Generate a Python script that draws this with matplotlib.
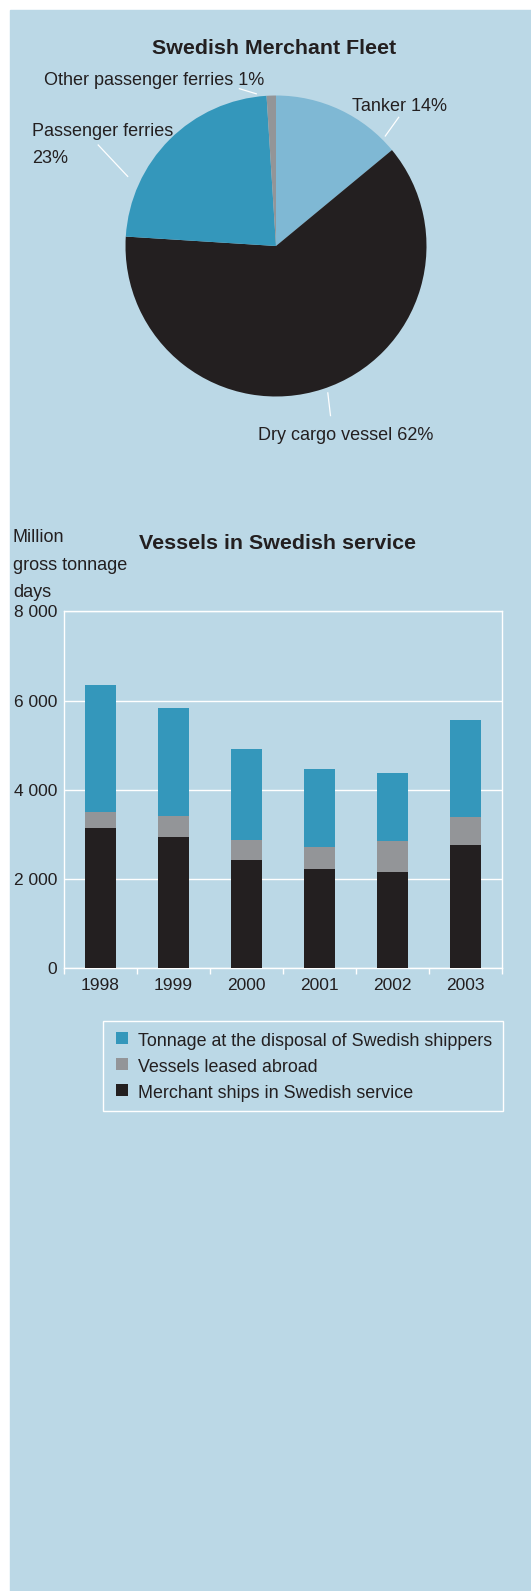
import numpy as np
import matplotlib.pyplot as plt
from matplotlib.patches import Rectangle
from matplotlib.lines import Line2D

plt.rcParams["font.family"] = ["Liberation Sans", "DejaVu Sans"]

# ── Data ──────────────────────────────────────────────────────────────────────
fleet_labels = ["Tanker", "Dry cargo vessel", "Passenger ferries",
                "Other passenger ferries"]
fleet_share = [14, 62, 23, 1]

years = ["1998", "1999", "2000", "2001", "2002", "2003"]
merchant_ships = [3140, 2940, 2420, 2220, 2150, 2760]
leased_abroad = [360, 470, 450, 495, 700, 630]
shipper_tonnage = [2860, 2430, 2050, 1755, 1530, 2180]

y_ticks = [0, 2000, 4000, 6000, 8000]

# ── Colours ───────────────────────────────────────────────────────────────────
BG = "#bbd8e6"
LIGHT = "#7fb8d4"
MID = "#3497bb"
DARK = "#231f20"
GREY = "#939598"
TXT = "#231f20"

W, H = 531, 1591


def fx(x):
    return x / W


def fy(y):
    return 1 - y / H


fig = plt.figure(figsize=(W / 100, H / 100), dpi=100, facecolor="white")
fig.patches.append(Rectangle((fx(10), 0), fx(W - 10), 1 - 10 / H,
                             transform=fig.transFigure, color=BG, zorder=-10))

# ── Pie: Swedish Merchant Fleet ───────────────────────────────────────────────
cx, cy, r = 276, 246, 150.5
pax = fig.add_axes([fx(cx - r), fy(cy + r), 2 * r / W, 2 * r / H])
pax.pie(fleet_share, colors=[LIGHT, DARK, MID, GREY], startangle=90,
        counterclock=False, radius=1, wedgeprops=dict(linewidth=0))
pax.set_xlim(-1, 1)
pax.set_ylim(-1, 1)
pax.set_aspect("equal")
pax.axis("off")

fig.text(fx(152), fy(54), "Swedish Merchant Fleet", fontsize=15.4,
         fontweight="bold", color=TXT, ha="left", va="baseline")

pie_texts = [
    (44, 84.7, f"{fleet_labels[3]} {fleet_share[3]}%"),
    (352, 111, f"{fleet_labels[0]} {fleet_share[0]}%"),
    (32, 135.5, fleet_labels[2]),
    (32, 163.2, f"{fleet_share[2]}%"),
    (258, 440.5, f"{fleet_labels[1]} {fleet_share[1]}%"),
]
for x, y, s in pie_texts:
    fig.text(fx(x), fy(y), s, fontsize=13, color=TXT, ha="left",
             va="baseline")

# leader lines
leaders = [
    ((239.4, 88.7), (256.3, 93.8)),
    ((398.7, 117.3), (385.3, 136.0)),
    ((98.2, 145.0), (127.7, 176.4)),
    ((327.8, 392.9), (330.5, 415.6)),
]
for (x0, y0), (x1, y1) in leaders:
    fig.lines.append(Line2D([fx(x0), fx(x1)], [fy(y0), fy(y1)],
                            transform=fig.transFigure, color="white", lw=0.9))

# ── Bars: Vessels in Swedish service ──────────────────────────────────────────
ax = fig.add_axes([fx(64), fy(968), (502 - 64) / W, (968 - 611.5) / H])
ax.set_facecolor("none")
x = np.arange(len(years))
merchant = np.array(merchant_ships)
leased = np.array(leased_abroad)
tonnage = np.array(shipper_tonnage)
bw = 0.42
ax.bar(x, merchant, bw, color=DARK, zorder=3)
ax.bar(x, leased, bw, bottom=merchant, color=GREY, zorder=3)
ax.bar(x, tonnage, bw, bottom=merchant + leased, color=MID, zorder=3)

ax.set_xlim(-0.5, len(years) - 0.5)
ax.set_ylim(0, 8000)
ax.set_yticks(y_ticks)
ax.set_yticklabels([f"{v:,}".replace(",", " ") for v in y_ticks])
ax.tick_params(axis="y", length=0, pad=4.8, labelsize=12.5, labelcolor=TXT)

ax.set_xticks(np.arange(-0.5, len(years), 1))
ax.set_xticklabels([])
ax.set_xticks(x, minor=True)
ax.set_xticklabels(years, minor=True)
ax.tick_params(axis="x", which="major", length=4, width=1, color="white",
               direction="out")
ax.tick_params(axis="x", which="minor", length=0, pad=7, labelsize=12.5,
               labelcolor=TXT)

ax.yaxis.grid(True, color="white", lw=1, zorder=1)
ax.set_axisbelow(True)
for sp in ax.spines.values():
    sp.set_color("white")
    sp.set_linewidth(1)

fig.text(fx(139), fy(549.3), "Vessels in Swedish service", fontsize=15.4,
         fontweight="bold", color=TXT, ha="left", va="baseline")
for y, s in zip([542.5, 570.3, 597.4], ["Million", "gross tonnage", "days"]):
    fig.text(fx(13), fy(y), s, fontsize=13, color=TXT, ha="left",
             va="baseline")

# legend drawn by hand
fig.patches.append(Rectangle((fx(103.3), fy(1111)), (502.7 - 103.3) / W,
                             (1111 - 1020.7) / H, transform=fig.transFigure,
                             facecolor="none", edgecolor="white", lw=1))
legend_rows = [
    (MID, "Tonnage at the disposal of Swedish shippers", 1031.7, 1045.7),
    (GREY, "Vessels leased abroad", 1057.7, 1071.7),
    (DARK, "Merchant ships in Swedish service", 1084.3, 1098.3),
]
sq = 12
for col, label, top, base in legend_rows:
    fig.patches.append(Rectangle((fx(116), fy(top + sq)), sq / W, sq / H,
                                 transform=fig.transFigure, color=col, lw=0))
    fig.text(fx(138.5), fy(base), label, fontsize=12.85, color=TXT,
             ha="left", va="baseline")

plt.savefig("out.png", dpi=100)
